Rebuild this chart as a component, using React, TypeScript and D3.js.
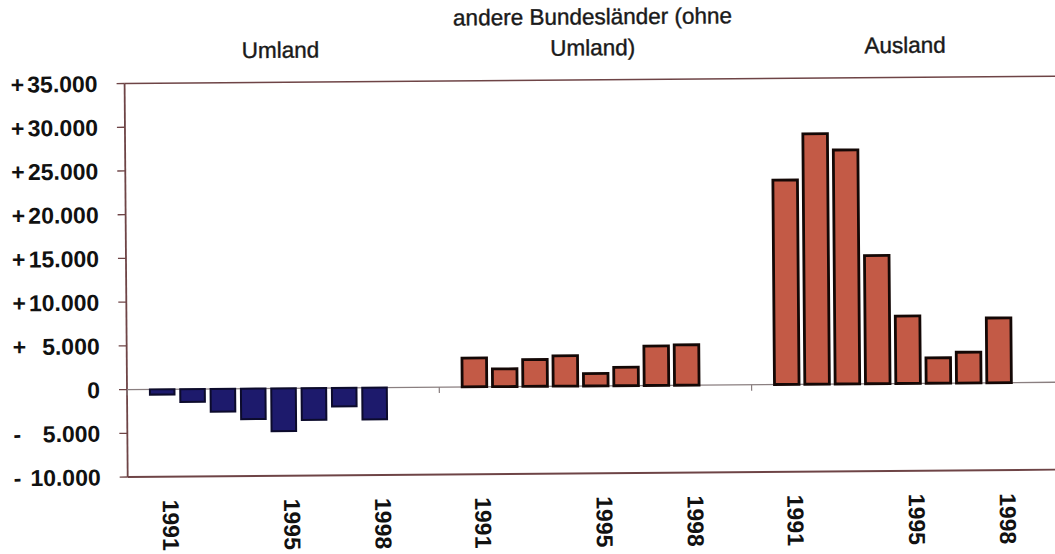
import React from "react";
import * as d3 from "d3";

const groups = ["Umland", "andere Bundesländer (ohne Umland)", "Ausland"];
const groupTitleLines = [["Umland"], ["andere Bundesländer (ohne", "Umland)"], ["Ausland"]];
const years = ["1991", "1992", "1993", "1994", "1995", "1996", "1997", "1998"];
const labeledYears = ["1991", "1995", "1998"];
const umland = [-600, -1470, -2610, -3490, -4900, -3640, -2120, -3640];
const andere = [3290, 2030, 3060, 3470, 1410, 2100, 4500, 4610];
const ausland = [23360, 28630, 26760, 14660, 7710, 2900, 3520, 7410];
const seriesByGroup = [umland, andere, ausland];
const yTicks = [35000, 30000, 25000, 20000, 15000, 10000, 5000, 0, -5000, -10000];
const yTickLabels = [
  ["+", "35.000"], ["+", "30.000"], ["+", "25.000"], ["+", "20.000"], ["+", "15.000"],
  ["+", "10.000"], ["+", "5.000"], ["", "0"], ["-", "5.000"], ["-", "10.000"],
];

const W = 1055;
const H = 554;
const left = 127;
const groupW = 312.3;
const axisColor = "#6e4446";
const font = "'Liberation Sans', Arial, Helvetica, sans-serif";

export default function App() {
  const x0 = d3.scaleBand<string>().domain(groups).range([left, left + groupW * 3]).padding(0);
  const x1 = d3.scaleBand<string>().domain(years).range([22.9, 259.8]).paddingInner(0.19);
  const y = d3.scaleLinear().domain([-10000, 35000]).range([477, 83.5]);
  const right = left + groupW * 3;
  const zero = y(0);

  return (
    <svg width={W} height={H} style={{ position: "absolute", left: 0, top: 0, background: "#fff" }}>
      <g transform={`rotate(-0.45, ${left}, ${zero})`}>
        {/* frame */}
        <line x1={left} x2={right} y1={y(35000)} y2={y(35000)} stroke={axisColor} strokeWidth={1.5} />
        <line x1={left} x2={right} y1={y(-10000)} y2={y(-10000)} stroke={axisColor} strokeWidth={1.8} />
        <line x1={right} x2={right} y1={y(35000)} y2={y(-10000)} stroke={axisColor} strokeWidth={1.5} />
        <line x1={left} x2={left} y1={y(35000)} y2={y(-10000)} stroke={axisColor} strokeWidth={1.8} />
        {/* zero line */}
        <line x1={left} x2={right} y1={zero} y2={zero} stroke="#8a7f80" strokeWidth={1.3} />
        {groups.map((g, i) => (
          <line key={"sep" + i} x1={x0(g)!} x2={x0(g)!} y1={zero} y2={zero + 6} stroke="#8a7f80" strokeWidth={1.2} />
        ))}
        {/* y ticks */}
        {yTicks.map((t, i) => (
          <g key={"yt" + i}>
            <line x1={left - 8} x2={left} y1={y(t)} y2={y(t)} stroke={axisColor} strokeWidth={1.3} />
            {yTickLabels[i][0] && (
              <text x={13} y={y(t)} dy="0.36em" fontFamily={font} fontWeight="bold" fontSize={23} fill="#111">
                {yTickLabels[i][0]}
              </text>
            )}
            <text x={100} y={y(t)} dy="0.36em" textAnchor="end" fontFamily={font} fontWeight="bold" fontSize={23} fill="#111">
              {yTickLabels[i][1]}
            </text>
          </g>
        ))}
        {/* bars */}
        {groups.map((g, gi) =>
          seriesByGroup[gi].map((v, i) => {
            const bx = x0(g)! + x1(years[i])!;
            const top = y(Math.max(0, v));
            const h = Math.abs(y(v) - zero);
            const neg = v < 0;
            return (
              <rect
                key={g + i}
                x={bx}
                y={top}
                width={x1.bandwidth()}
                height={h}
                fill={neg ? "#1d1a6c" : "#c35a46"}
                stroke={neg ? "#0c0b2c" : "#140806"}
                strokeWidth={neg ? 2 : 2.8}
              />
            );
          })
        )}
        {/* group titles */}
        {groups.map((g, gi) => {
          const cx = x0(g)! + groupW / 2;
          const lines = groupTitleLines[gi];
          return lines.map((ln, li) => (
            <text
              key={g + "t" + li}
              x={cx}
              y={59 - (lines.length - 1 - li) * 31}
              textAnchor="middle"
              fontFamily={font}
              fontSize={22.5}
              fill="#1a1a1a"
              stroke="#1a1a1a"
              strokeWidth={0.4}
            >
              {ln}
            </text>
          ));
        })}
        {/* year labels */}
        {groups.map((g) =>
          labeledYears.map((yr) => {
            const cx = x0(g)! + x1(yr)! + x1.bandwidth() / 2 + 8;
            return (
              <text
                key={g + yr}
                transform={`translate(${cx}, 500) rotate(90)`}
                dy="0.36em"
                fontFamily={font}
                fontWeight="bold"
                fontSize={23}
                fill="#111"
              >
                {yr}
              </text>
            );
          })
        )}
      </g>
    </svg>
  );
}
